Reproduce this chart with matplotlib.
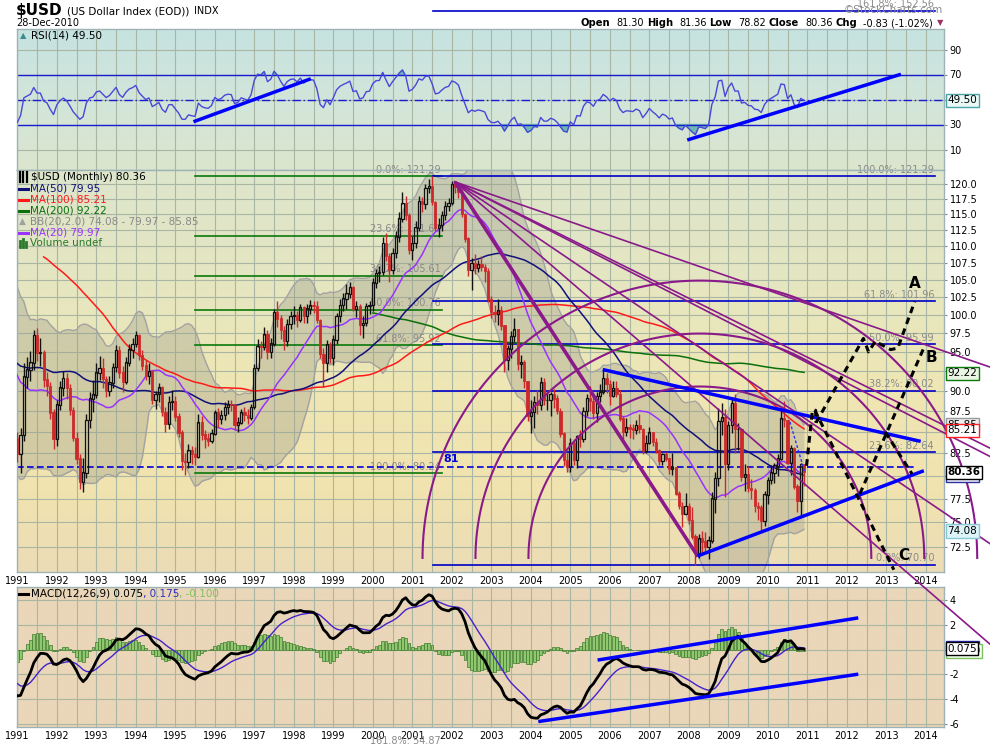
import numpy as np
import pandas as pd
import matplotlib
matplotlib.use("Agg")
import matplotlib.pyplot as plt
from matplotlib.colors import LinearSegmentedColormap
from matplotlib.ticker import FixedLocator, NullLocator, FixedFormatter
from matplotlib.lines import Line2D

plt.rcParams['font.family'] = ['DejaVu Sans']

# ============================ DATA ============================
first_year, first_month = 1983, 6          # warm-up closes start June 1983 (MA200 needs them)

close_warmup = [
    124.0, 127.5, 130.0, 127.5, 128.5, 132.0, 133.5,                                   # 1983 Jun-Dec
    135.0, 128.0, 127.0, 130.5, 134.0, 134.5, 140.0, 139.5, 145.5, 143.0, 142.0, 149.5,  # 1984
    154.0, 160.0, 150.5, 149.0, 148.5, 145.5, 138.5, 137.5, 129.5, 126.0, 124.0, 121.5,  # 1985
    118.0, 112.5, 111.5, 108.5, 111.5, 108.0, 104.5, 103.0, 103.5, 104.0, 104.0, 101.0,  # 1986
    97.0, 98.0, 96.0, 94.0, 94.5, 96.0, 98.0, 96.5, 97.0, 92.5, 88.0, 87.0,              # 1987
    90.0, 89.5, 87.0, 87.5, 90.0, 94.0, 97.0, 98.0, 96.5, 94.0, 91.0, 93.0,              # 1988
    96.0, 95.0, 98.0, 99.0, 104.0, 101.5, 98.0, 102.0, 98.5, 97.0, 96.0, 93.0,           # 1989
    92.5, 92.0, 95.0, 94.0, 93.5, 92.0, 88.0, 87.0, 86.0, 83.0, 83.0, 84.3,              # 1990
]

# monthly bars Jan 1991 .. Dec 2010 (open = previous close)
close = [
    82.4, 84.6, 91.8, 92.7, 93.6, 97.2, 94.9, 94.9, 91.4, 90.6, 87.3, 84.2,        # 1991
    88.3, 90.4, 91.6, 90.3, 87.6, 84.3, 81.9, 79.3, 80.3, 86.4, 89.0, 89.5,        # 1992
    92.3, 92.9, 91.5, 90.0, 91.0, 93.0, 95.2, 92.3, 91.1, 93.6, 95.3, 96.0,        # 1993
    97.2, 94.6, 93.2, 91.9, 92.5, 88.9, 89.6, 90.4, 87.4, 86.0, 88.6, 88.7,        # 1994
    86.8, 84.9, 81.6, 81.5, 82.8, 82.4, 82.1, 86.1, 84.7, 84.2, 84.0, 84.8,        # 1995
    87.3, 86.6, 87.0, 88.0, 88.3, 88.2, 85.8, 86.1, 87.3, 87.0, 86.7, 88.0,        # 1996
    92.9, 95.7, 95.6, 97.3, 95.0, 96.1, 100.4, 99.5, 97.9, 96.5, 98.7, 99.8,       # 1997
    100.0, 99.3, 101.0, 99.8, 100.9, 101.3, 101.2, 99.3, 94.7, 93.5, 96.0, 94.2,   # 1998
    96.6, 99.8, 101.4, 102.3, 103.0, 103.9, 100.9, 101.2, 98.6, 98.9, 101.2, 101.4,  # 1999
    104.6, 106.0, 106.1, 110.5, 108.5, 106.5, 109.0, 111.5, 114.3, 116.7, 114.9, 109.5,  # 2000
    110.5, 112.9, 117.1, 116.6, 119.3, 119.6, 117.0, 112.9, 113.3, 114.9, 116.3, 116.8,  # 2001
    119.9, 119.5, 118.6, 115.0, 111.2, 106.4, 107.5, 106.8, 107.3, 106.9, 106.3, 102.2,  # 2002
    100.4, 100.2, 100.6, 98.5, 93.9, 95.4, 97.1, 98.0, 93.4, 93.6, 91.2, 86.9,     # 2003
    87.4, 88.6, 88.2, 91.0, 88.8, 88.8, 89.6, 89.0, 87.5, 84.8, 81.7, 81.0,        # 2004
    83.7, 81.7, 84.5, 84.2, 87.5, 89.1, 88.7, 87.3, 89.3, 89.8, 91.6, 90.8,        # 2005
    89.4, 90.3, 89.6, 86.6, 85.0, 85.5, 85.4, 85.2, 85.8, 85.3, 82.8, 83.7,        # 2006
    84.9, 83.8, 82.9, 81.6, 82.4, 81.9, 80.7, 80.9, 78.0, 76.7, 75.9, 76.7,        # 2007
    75.2, 73.5, 71.9, 73.3, 73.0, 72.5, 73.1, 77.5, 79.7, 86.3, 86.7, 81.3,        # 2008
    85.8, 88.5, 85.3, 85.3, 79.8, 80.1, 78.6, 78.4, 76.7, 76.5, 75.1, 77.9,        # 2009
    79.5, 80.3, 81.1, 81.9, 86.6, 86.4, 81.4, 83.1, 78.8, 77.2, 81.3, 80.36,       # 2010
]
high = [
    85.0, 85.5, 93.5, 94.3, 95.1, 97.9, 98.2, 96.8, 95.2, 92.4, 91.1, 87.7,
    88.9, 91.2, 92.5, 92.2, 90.8, 88.0, 85.0, 82.4, 82.0, 87.2, 89.9, 91.4,
    93.6, 94.5, 94.2, 91.9, 91.9, 93.6, 95.9, 95.8, 93.2, 94.3, 96.0, 96.8,
    97.8, 97.4, 95.2, 94.0, 93.5, 92.6, 90.0, 91.0, 90.6, 88.0, 89.3, 90.1,
    89.3, 87.3, 85.2, 82.5, 83.6, 83.4, 83.2, 87.2, 86.9, 85.2, 84.9, 85.4,
    87.6, 87.9, 87.6, 88.6, 88.8, 88.9, 88.4, 86.8, 87.8, 88.0, 87.8, 88.4,
    93.4, 96.7, 96.4, 98.3, 98.0, 96.8, 100.8, 101.9, 100.0, 98.5, 99.4, 100.5,
    101.2, 100.6, 101.5, 101.2, 101.6, 102.1, 101.9, 102.0, 99.5, 95.5, 96.6, 96.3,
    97.3, 100.3, 102.2, 103.1, 104.4, 104.7, 104.1, 102.0, 101.6, 99.9, 101.7, 102.0,
    105.2, 106.6, 107.1, 111.4, 112.0, 109.0, 109.7, 112.3, 115.4, 118.6, 117.9, 115.2,
    111.6, 113.9, 117.9, 117.8, 120.0, 120.7, 121.29, 117.2, 114.4, 115.6, 117.2, 117.6,
    120.5, 120.3, 119.9, 119.1, 115.2, 111.4, 108.2, 108.9, 108.0, 108.6, 107.3, 106.7,
    102.6, 101.4, 102.3, 101.3, 98.6, 95.9, 97.8, 99.6, 98.1, 94.6, 94.0, 91.2,
    88.8, 89.4, 90.1, 91.8, 91.6, 89.9, 89.9, 90.2, 89.5, 87.9, 85.0, 82.6,
    84.3, 84.2, 84.7, 85.2, 88.0, 89.6, 90.6, 89.3, 89.9, 90.9, 92.6, 92.3,
    91.4, 91.2, 91.2, 90.1, 86.9, 86.7, 86.0, 85.9, 86.4, 87.2, 85.5, 84.6,
    85.6, 85.0, 84.3, 83.0, 82.6, 82.7, 82.0, 82.6, 80.9, 78.3, 77.1, 78.1,
    77.0, 76.6, 73.8, 73.8, 74.1, 74.0, 73.6, 78.2, 80.4, 87.9, 88.5, 87.8,
    86.3, 89.2, 89.6, 86.1, 85.5, 81.3, 81.1, 79.6, 78.6, 77.1, 76.8, 78.3,
    79.9, 81.2, 81.4, 82.4, 87.6, 88.7, 86.3, 83.5, 83.3, 79.1, 81.4, 81.36,
]
low = [
    81.5, 80.3, 84.0, 90.4, 91.2, 92.6, 93.8, 93.2, 90.5, 89.3, 86.6, 83.0,
    83.4, 87.6, 89.4, 89.0, 87.0, 83.9, 81.3, 78.5, 78.2, 79.7, 85.5, 87.4,
    89.1, 91.4, 90.3, 89.2, 89.3, 90.4, 92.4, 91.6, 89.9, 90.8, 93.1, 94.2,
    95.6, 94.0, 92.6, 91.3, 90.8, 88.4, 87.8, 88.6, 86.9, 85.0, 85.3, 87.6,
    86.3, 84.4, 80.6, 80.1, 80.9, 81.3, 81.2, 82.0, 84.1, 83.1, 83.4, 83.7,
    84.6, 85.6, 85.9, 86.4, 87.2, 87.5, 85.2, 85.0, 85.9, 86.3, 86.0, 86.4,
    87.8, 92.5, 94.2, 95.2, 94.1, 94.2, 95.8, 98.4, 96.7, 95.3, 95.8, 98.1,
    98.7, 98.4, 99.0, 98.9, 98.9, 100.1, 100.3, 98.9, 94.2, 90.5, 92.4, 93.6,
    93.3, 96.0, 99.0, 100.6, 100.9, 102.4, 100.5, 99.7, 97.2, 96.9, 98.5, 100.2,
    100.6, 103.8, 104.7, 105.7, 107.8, 104.7, 105.9, 108.2, 110.6, 113.8, 114.1, 108.9,
    107.9, 109.7, 112.3, 115.4, 115.8, 118.4, 116.5, 112.3, 111.5, 112.4, 114.1, 115.5,
    116.5, 118.5, 117.6, 114.6, 110.7, 105.5, 103.5, 105.8, 106.1, 106.3, 104.7, 101.8,
    99.6, 99.0, 98.6, 98.0, 92.4, 92.7, 94.2, 96.3, 92.7, 91.6, 90.4, 86.3,
    84.9, 85.5, 87.1, 87.6, 88.3, 87.6, 86.9, 87.9, 87.1, 84.4, 81.1, 80.4,
    80.4, 81.2, 80.8, 83.3, 83.8, 86.9, 87.5, 86.5, 86.2, 88.6, 89.6, 89.7,
    88.3, 89.2, 89.2, 86.3, 84.0, 84.5, 84.3, 84.2, 84.8, 84.9, 82.4, 82.5,
    83.6, 83.4, 82.5, 81.2, 81.2, 81.6, 80.2, 80.1, 77.9, 76.4, 74.5, 75.9,
    74.8, 73.3, 70.7, 71.4, 71.8, 71.9, 71.3, 72.9, 76.0, 78.9, 84.7, 77.7,
    80.6, 84.9, 82.6, 82.9, 79.4, 78.3, 78.2, 77.4, 76.1, 75.2, 74.2, 74.6,
    76.9, 79.1, 79.2, 80.0, 81.8, 85.6, 81.3, 80.1, 78.5, 76.1, 75.6, 78.82,
]

year_ticks = list(range(1991, 2015))
price_ticks = [72.5, 75.0, 77.5, 80.0, 82.5, 85.0, 87.5, 90.0, 92.5, 95.0, 97.5,
               100.0, 102.5, 105.0, 107.5, 110.0, 112.5, 115.0, 117.5, 120.0]
price_ticks_hidden = [80.0, 85.0, 92.5]     # covered by value tags on the original
rsi_ticks = [10, 30, 70, 90]
macd_ticks = [-6, -4, -2, 2, 4]

# Fibonacci retracement sets (levels, labels)
fib_green_levels = [121.29, 111.60, 105.61, 100.76, 95.92, 80.24, 54.87]
fib_green_labels = ['0.0%: 121.29', '23.6%: 111.60', '38.2%: 105.61', '50.0%: 100.76',
                    '61.8%: 95.92', '100.0%: 80.24', '161.8%: 54.87']
fib_green_span = (1995.50, 2001.74)
fib_blue_levels = [121.29, 101.96, 95.99, 90.02, 82.64, 70.70, 152.56]
fib_blue_labels = ['100.0%: 121.29', '61.8%: 101.96', '50.0%: 95.99', '38.2%: 90.02',
                   '23.6%: 82.64', '0.0%: 70.70', '161.8%: 152.56']
fib_blue_span = (2001.53, 2014.23)
hline_81 = 81.0

# Fan / arcs (from Jan-2002 high, arcs centred on 2008 low)
fan_origin = (2002.08, 120.3)
fan_base_end = (2008.23, 71.5)
fan_edge_x = 2014.46
fan_edge_prices = [95.1, 85.8, 84.9, 76.0, 66.9]
arc_center = (2008.28, 71.36)
arc_fracs = [0.382, 0.5, 0.618]

# drawn trendlines (year, value)
price_trend_upper = [(2005.82, 92.7), (2013.87, 83.9)]
price_trend_lower = [(2008.22, 71.55), (2013.95, 80.55)]
price_trend_thin = [(2010.56, 86.2), (2010.94, 80.3)]
proj_start = [(2010.98, 81.1), (2011.13, 87.6), (2011.21, 87.6), (2011.22, 86.1)]
proj_A = [(2011.22, 86.1), (2012.42, 96.8), (2012.55, 95.0), (2012.72, 96.4),
          (2013.11, 95.3), (2013.29, 95.5), (2013.72, 101.9)]
proj_C = [(2011.19, 87.6), (2013.19, 70.2)]
proj_B = [(2012.33, 78.0), (2013.98, 95.9)]
proj_extra = [(2012.97, 85.0), (2013.65, 80.2)]
label_pts = {'A': (2013.72, 104.5), 'B': (2014.15, 94.2), 'C': (2013.43, 71.65)}

rsi_trend1 = [(1995.46, 32.2), (1998.43, 66.6)]
rsi_trend2 = [(2007.96, 17.6), (2013.37, 70.2)]
macd_trend_upper = [(2005.69, -0.84), (2012.29, 2.58)]
macd_trend_lower = [(2004.19, -5.82), (2012.29, -1.98)]

# legend values shown on the chart
last_close = 80.36
ma50_last, ma100_last, ma200_last, ma20_last = 79.95, 85.21, 92.22, 79.97
bb_last = (74.08, 79.97, 85.85)
rsi_last = 49.50
macd_last = (0.075, 0.175, -0.100)
header_ohlc = [('Open', '81.30'), ('High', '81.36'), ('Low', '78.82'), ('Close', '80.36'),
               ('Chg', '-0.83 (-1.02%)')]

# ============================ COMPUTE ============================
full_close = pd.Series(close_warmup + close, dtype=float)
n_all = len(full_close)
t_all = first_year + (first_month - 1) / 12 + np.arange(n_all) / 12
nw = len(close_warmup)
t_vis = t_all[nw:]
c_vis = np.array(close)
o_vis = full_close.shift(1).values[nw:]
h_vis = np.array(high)
l_vis = np.array(low)

ma20 = full_close.rolling(20).mean()
ma50 = full_close.rolling(50).mean()
ma100 = full_close.rolling(100).mean()
ma200 = full_close.rolling(200).mean()
sd20 = full_close.rolling(20).std(ddof=0)
bb_up, bb_lo = ma20 + 2 * sd20, ma20 - 2 * sd20

delta = full_close.diff().fillna(0)
gain = delta.clip(lower=0).ewm(alpha=1 / 14, adjust=False).mean()
loss = (-delta.clip(upper=0)).ewm(alpha=1 / 14, adjust=False).mean()
rsi = 100 - 100 / (1 + gain / loss)

ema12 = full_close.ewm(span=12, adjust=False).mean()
ema26 = full_close.ewm(span=26, adjust=False).mean()
macd = ema12 - ema26
signal = macd.ewm(span=9, adjust=False).mean()
hist = macd - signal

# ============================ FIGURE ============================
W, H = 990, 744
fig = plt.figure(figsize=(W / 100, H / 100), dpi=100)
fig.patch.set_facecolor('white')
renderer = fig.canvas.get_renderer()
L, R = 16.7, 944.0


def fx(px):
    return px / W


def fy(py):
    return 1 - py / H


def panel(top, bottom):
    return [fx(L), fy(bottom), fx(R) - fx(L), (bottom - top) / H]


def text_w(t):
    return t.get_window_extent(renderer=renderer).width


ax_r = fig.add_axes(panel(29, 170), zorder=1)
ax_p = fig.add_axes(panel(170, 572), zorder=3)
ax_m = fig.add_axes(panel(587, 727), zorder=1)

XL = (1990.985, 2014.46)
grid_c = '#a9b6a3'
spine_c = '#9fb3b6'
purple = '#8a1a8a'
blue = '#0000ff'


def gradient(ax, colors, stops):
    cmap = LinearSegmentedColormap.from_list('g', list(zip(stops, colors)))
    g = np.linspace(0, 1, 256).reshape(-1, 1)
    ax.imshow(g, aspect='auto', cmap=cmap, extent=[0, 1, 0, 1], transform=ax.transAxes,
              zorder=-10, interpolation='bilinear')


def style(ax):
    ax.set_xlim(*XL)
    ax.set_axisbelow(True)
    for s in ax.spines.values():
        s.set_color(spine_c)
        s.set_linewidth(1.0)
    ax.xaxis.set_major_locator(FixedLocator(year_ticks))
    ax.xaxis.set_minor_locator(FixedLocator([y + 0.5 for y in year_ticks]))
    ax.xaxis.set_major_formatter(FixedFormatter([str(y) for y in year_ticks]))
    ax.grid(True, which='both', axis='x', color=grid_c, lw=0.8)
    ax.grid(True, which='major', axis='y', color=grid_c, lw=0.8)
    ax.yaxis.tick_right()
    ax.tick_params(axis='x', which='both', length=0, labelsize=7, pad=3)
    ax.tick_params(axis='y', which='both', length=2.5, labelsize=7, pad=1.5, color='#888888')


def tag(ax, v, s, fc, ec, bold=False, z=10):
    ax.text(1.0035, v, s, transform=ax.get_yaxis_transform(), fontsize=7.5, va='center',
            ha='left', fontweight='bold' if bold else 'normal', zorder=z, clip_on=False,
            bbox=dict(boxstyle='square,pad=0.15', fc=fc, ec=ec, lw=1))


# ---------------- RSI panel ----------------
gradient(ax_r, ['#c6e3e1', '#d2e5da', '#dbe6cd'], [0, 0.5, 1])
style(ax_r)
ax_r.set_ylim(-6.4, 106.4)
ax_r.yaxis.set_major_locator(FixedLocator(rsi_ticks + [50]))
ax_r.yaxis.set_major_formatter(FixedFormatter([str(v) for v in rsi_ticks] + ['']))
ax_r.tick_params(axis='x', labelbottom=False)
rv = rsi.values[nw - 1:]
tv = t_all[nw - 1:]
ax_r.fill_between(tv, rv, 30, where=rv < 30, interpolate=True, color='#6fb7b3', zorder=2)
ax_r.fill_between(tv, rv, 70, where=rv > 70, interpolate=True, color='#6fb7b3', zorder=2)
ax_r.plot(tv, rv, color='#4848d8', lw=1.0, zorder=3)
ax_r.axhline(70, color='#1a1ad0', lw=1.0, zorder=2)
ax_r.axhline(30, color='#1a1ad0', lw=1.0, zorder=2)
ax_r.axhline(50, color='#1a1ad0', lw=1.0, ls=(0, (6, 2, 1, 2)), zorder=2)
for tr in (rsi_trend1, rsi_trend2):
    ax_r.plot([p[0] for p in tr], [p[1] for p in tr], color=blue, lw=2.5, zorder=4,
              solid_capstyle='butt')
tag(ax_r, rsi_last, f'{rsi_last:.2f}', '#eaf8f6', '#4aa6a6')
fig.text(fx(20), fy(36), '▲', fontsize=6, color='#3c8c8c', va='center')
fig.text(fx(31), fy(36), f'RSI(14) {rsi_last:.2f}', fontsize=7.5, va='center')

# ---------------- Price panel ----------------
gradient(ax_p, ['#dde5cc', '#e6e6c0', '#efe6b3', '#f1e3af', '#ecdcb6'],
         [0, 0.3, 0.55, 0.8, 1])
style(ax_p)
ax_p.set_yscale('log')
ax_p.set_ylim(69.98, 122.3)
ax_p.yaxis.set_major_locator(FixedLocator(price_ticks))
ax_p.yaxis.set_major_formatter(FixedFormatter(
    ['' if v in price_ticks_hidden else f'{v:.1f}' for v in price_ticks]))
ax_p.yaxis.set_minor_locator(NullLocator())
ax_p.patch.set_alpha(0)

sl = slice(nw - 1, None)
tt = t_all[sl]
ax_p.fill_between(tt, bb_lo.values[sl], bb_up.values[sl], color='#9c9c8c', alpha=0.36,
                  lw=0, zorder=1)
ax_p.plot(tt, bb_up.values[sl], color='#a2a2a2', lw=1.0, zorder=1.2)
ax_p.plot(tt, bb_lo.values[sl], color='#a2a2a2', lw=1.0, zorder=1.2)

# fib lines
for lv, lb in zip(fib_green_levels, fib_green_labels):
    ax_p.plot(fib_green_span, [lv, lv], color='#0a780a', lw=1.2, zorder=2, clip_on=False)
    ax_p.text(fib_green_span[1] - 0.02, lv * 1.002, lb, fontsize=7, color='#8a8a8a',
              ha='right', va='bottom', zorder=2)
for lv, lb in zip(fib_blue_levels, fib_blue_labels):
    ax_p.plot(fib_blue_span, [lv, lv], color='#0000c8', lw=1.2, zorder=2, clip_on=False)
    ax_p.text(fib_blue_span[1] - 0.02, lv * 1.002, lb, fontsize=7, color='#8a8a8a',
              ha='right', va='bottom', zorder=2)
ax_p.plot([XL[0], 2013.78], [hline_81, hline_81], color='#0000e0', lw=1.2,
          dashes=(4, 2), zorder=2)
ax_p.text(2001.98, 81.9, '81', fontsize=8, fontweight='bold', color='#0000e0',
          ha='center', va='center', zorder=2)

# moving averages
ax_p.plot(tt, ma200.values[sl], color='#0a700a', lw=1.1, zorder=3)
ax_p.plot(tt, ma100.values[sl], color='#ff1a1a', lw=1.1, zorder=3)
ax_p.plot(tt, ma50.values[sl], color='#10107a', lw=1.1, zorder=3)
ax_p.plot(tt, ma20.values[sl], color='#9933ff', lw=1.1, zorder=3)

# candles
up = c_vis >= o_vis
body_lo = np.minimum(o_vis, c_vis)
body_hi = np.maximum(o_vis, c_vis)
cw = 0.056
for mask, col in ((up, '#111111'), (~up, '#cc2a2a')):
    ax_p.vlines(t_vis[mask], l_vis[mask], body_lo[mask], color=col, lw=1.0, zorder=4)
    ax_p.vlines(t_vis[mask], body_hi[mask], h_vis[mask], color=col, lw=1.0, zorder=4)
ax_p.bar(t_vis[up], (body_hi - body_lo)[up] + 0.05, bottom=body_lo[up], width=cw,
         facecolor='none', edgecolor='#111111', lw=0.9, zorder=4)
ax_p.bar(t_vis[~up], (body_hi - body_lo)[~up] + 0.05, bottom=body_lo[~up], width=cw,
         facecolor='#cc2a2a', edgecolor='#cc2a2a', lw=0.6, zorder=4)

# fan lines and arcs (geometry in screen space, as the charting tool draws them)
inv = ax_p.transData.inverted()
o_d = ax_p.transData.transform(fan_origin)
c_d = ax_p.transData.transform(arc_center)
b_d = ax_p.transData.transform(fan_base_end)
bd = inv.transform([o_d, b_d])
ax_p.plot(bd[:, 0], bd[:, 1], color=purple, lw=2.6, zorder=5, solid_capstyle='butt')
x_end = fig.bbox.width
for p in fan_edge_prices:
    e_d = ax_p.transData.transform((fan_edge_x, p))
    k = (e_d[1] - o_d[1]) / (e_d[0] - o_d[0])
    pts = inv.transform([o_d, (x_end, o_d[1] + k * (x_end - o_d[0]))])
    ax_p.plot(pts[:, 0], pts[:, 1], color=purple, lw=1.2, zorder=5, clip_on=False)
Rr = np.hypot(*(o_d - c_d))
th = np.linspace(0, np.pi, 300)
for f in arc_fracs:
    pts = np.column_stack([c_d[0] + f * Rr * np.cos(th), c_d[1] + f * Rr * np.sin(th)])
    d = inv.transform(pts)
    ax_p.plot(d[:, 0], d[:, 1], color=purple, lw=1.5, zorder=5, clip_on=False)

# trendlines
for tr in (price_trend_upper, price_trend_lower):
    ax_p.plot([p[0] for p in tr], [p[1] for p in tr], color=blue, lw=2.5, zorder=6,
              solid_capstyle='butt')
ax_p.plot([p[0] for p in price_trend_thin], [p[1] for p in price_trend_thin],
          color='#3030ff', lw=1.0, dashes=(2, 1.5), zorder=6)
for path in (proj_start, proj_A, proj_C, proj_B, proj_extra):
    ax_p.plot([p[0] for p in path], [p[1] for p in path], color='black', lw=2.2,
              dashes=(2.2, 1.6), zorder=7, clip_on=False)
for k, (x, y) in label_pts.items():
    ax_p.text(x, y, k, fontsize=11, fontweight='bold', ha='center', va='center', zorder=8)

# right-side value tags (stacked like the original: hidden ones sit behind)
tag(ax_p, ma200_last, f'{ma200_last:.2f}', '#eaf5e6', '#0a7a0a')
tag(ax_p, bb_last[2], f'{bb_last[2]:.2f}', '#eeeeee', '#999999', z=10)
tag(ax_p, ma100_last, f'{ma100_last:.2f}', '#ffffff', '#ff2020', z=11)
tag(ax_p, ma20_last, f'{ma20_last:.2f}', '#f0f0ff', '#3030a0', z=10)
tag(ax_p, last_close, f'{last_close:.2f}', '#ffffff', '#000000', bold=True, z=11)
tag(ax_p, bb_last[0], f'{bb_last[0]:.2f}', '#dcf4f8', '#88c8d8')

# price legend
leg_rows = [
    (188.5, '#10107a', f'MA(50) {ma50_last:.2f}'),
    (199.5, '#ff1a1a', f'MA(100) {ma100_last:.2f}'),
    (210.5, '#0a700a', f'MA(200) {ma200_last:.2f}'),
    (232.5, '#9933ff', f'MA(20) {ma20_last:.2f}'),
]
for yy, col, txt in leg_rows:
    fig.add_artist(Line2D([fx(19), fx(28)], [fy(yy), fy(yy)], color=col, lw=2.2,
                          transform=fig.transFigure, zorder=20))
    fig.text(fx(29.5), fy(yy), txt, fontsize=7.5, color=col, va='center', zorder=20)
for dx in (19.5, 23, 26.5):
    fig.add_artist(Line2D([fx(dx), fx(dx)], [fy(182), fy(172)], color='black', lw=1.6,
                          transform=fig.transFigure, zorder=20))
fig.text(fx(31), fy(177), f'$USD (Monthly) {last_close:.2f}', fontsize=7.5, va='center',
         zorder=20)
fig.text(fx(18.5), fy(221.5), '▲', fontsize=6.5, color='#a0a0a0', va='center', zorder=20)
fig.text(fx(29.5), fy(221.5),
         f'BB(20,2.0) {bb_last[0]:.2f} - {bb_last[1]:.2f} - {bb_last[2]:.2f}',
         fontsize=7.5, color='#8a8a8a', va='center', zorder=20)
for dx, hh in ((20, 6), (23, 8), (26, 5)):
    fig.add_artist(Line2D([fx(dx), fx(dx)], [fy(247), fy(247 - hh)], color='#2a7a2a',
                          lw=2, transform=fig.transFigure, zorder=20))
fig.text(fx(29.5), fy(243), 'Volume undef', fontsize=7.5, color='#2a7a2a', va='center',
         zorder=20)

# ---------------- MACD panel ----------------
gradient(ax_m, ['#ead6b8', '#ebd6b9'], [0, 1])
style(ax_m)
ax_m.set_ylim(-6.26, 5.08)
ax_m.yaxis.set_major_locator(FixedLocator(macd_ticks + [0]))
ax_m.yaxis.set_major_formatter(FixedFormatter([str(v) for v in macd_ticks] + ['']))
ax_m.bar(t_vis, hist.values[nw:], width=1 / 12 * 0.85, color='#8fc86e',
         edgecolor='#3f7a2e', lw=0.5, zorder=2)
ax_m.plot(t_all[nw - 1:], signal.values[nw - 1:], color='#4422cc', lw=1.0, zorder=3)
ax_m.plot(t_all[nw - 1:], macd.values[nw - 1:], color='black', lw=2.0, zorder=4)
for tr in (macd_trend_upper, macd_trend_lower):
    ax_m.plot([p[0] for p in tr], [p[1] for p in tr], color=blue, lw=2.5, zorder=5,
              solid_capstyle='butt')
tag(ax_m, macd_last[1], f'{macd_last[1]:.3f}', '#ffffff', '#2a2ab0', z=9)
tag(ax_m, macd_last[2], f'{macd_last[2]:.3f}', '#f2fff0', '#80c060', z=9)
tag(ax_m, macd_last[0], f'{macd_last[0]:.3f}', '#ffffff', '#000000', z=11)
fig.add_artist(Line2D([fx(19), fx(28)], [fy(593.5), fy(593.5)], color='black', lw=2.2,
                      transform=fig.transFigure, zorder=20))
mx = 31
for s, col in ((f'MACD(12,26,9) {macd_last[0]:.3f}', 'black'),
               (f', {macd_last[1]:.3f}', '#3030c0'),
               (f', {macd_last[2]:.3f}', '#80c060')):
    tx = fig.text(fx(mx), fy(593.5), s, fontsize=7.5, color=col, va='center', zorder=20)
    mx += text_w(tx)

# ---------------- header ----------------
hx = 16
for s, fs, bold, gap in (('$USD', 11, True, 4), ('(US Dollar Index (EOD))', 7.5, False, 5),
                         ('INDX', 7, False, 0)):
    tx = fig.text(fx(hx), fy(11), s, fontsize=fs, fontweight='bold' if bold else 'normal',
                  va='center')
    hx += text_w(tx) + gap
fig.text(fx(16), fy(23), '28-Dec-2010', fontsize=7, va='center')
fig.text(fx(943), fy(10), '©StockCharts.com', fontsize=7.5, color='#8c8c8c',
         ha='right', va='center')

# OHLC header, laid out right-to-left so it ends where the original does
objs = []
for lab, val in header_ohlc:
    objs.append((fig.text(0, fy(23), lab, fontsize=7.2, fontweight='bold', va='center'), 3))
    objs.append((fig.text(0, fy(23), val, fontsize=7, va='center'), 6))
xr = 933
for tx, gap in reversed(objs):
    w = text_w(tx)
    tx.set_x(fx(xr - w))
    xr = xr - w - gap
fig.text(fx(937), fy(23), '▼', fontsize=6, color='#993366', va='center')

fig.savefig('out.png', dpi=100, facecolor='white')
